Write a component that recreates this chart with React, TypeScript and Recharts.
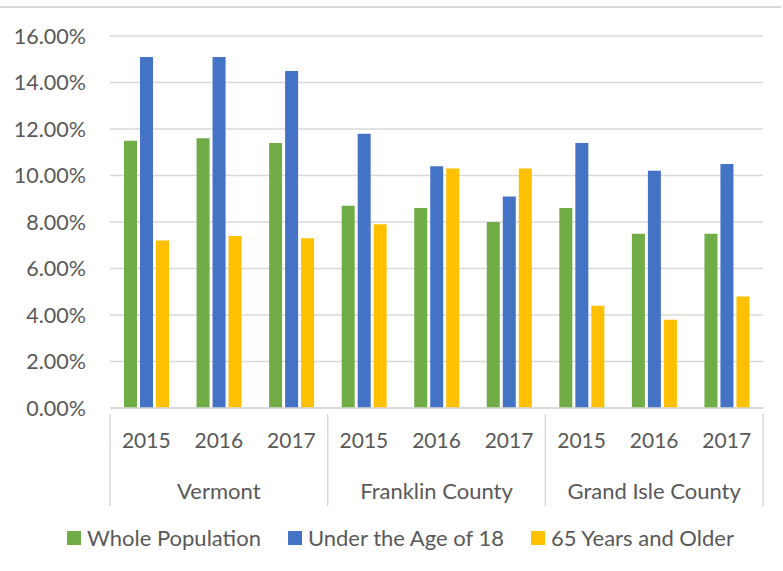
import { Bar, BarChart, CartesianGrid, Legend, XAxis, YAxis } from "recharts";

const years = ["2015", "2016", "2017", "2015", "2016", "2017", "2015", "2016", "2017"];
const regions = ["Vermont", "Vermont", "Vermont", "Franklin County", "Franklin County", "Franklin County", "Grand Isle County", "Grand Isle County", "Grand Isle County"];
const wholePopulation = [11.5, 11.6, 11.4, 8.7, 8.6, 8.0, 8.6, 7.5, 7.5];
const underAge18 = [15.1, 15.1, 14.5, 11.8, 10.4, 9.1, 11.4, 10.2, 10.5];
const age65Plus = [7.2, 7.4, 7.3, 7.9, 10.3, 10.3, 4.4, 3.8, 4.8];
const seriesNames = ["Whole Population", "Under the Age of 18", "65 Years and Older"];
const yTicks = [0, 2, 4, 6, 8, 10, 12, 14, 16];

const data = years.map((year, i) => ({
  key: i,
  year,
  region: regions[i],
  whole: wholePopulation[i],
  under18: underAge18[i],
  older: age65Plus[i],
}));

const FONT = "Lato, 'Noto Sans', sans-serif";
const INK = "#595959";
const GRID = "#d9d9d9";
const YEAR_H = 45;
const REGION_H = 47;

function RegionTick(props: any) {
  const { x, y, index, width, visibleTicksCount, payload } = props;
  const band = width / visibleTicksCount;
  const top = y - YEAR_H;
  const bottom = y + REGION_H;
  const left = x - band / 2;
  return (
    <g>
      {index % 3 === 0 && <line x1={left} x2={left} y1={top} y2={bottom} stroke={GRID} strokeWidth={1.5} />}
      {index === visibleTicksCount - 1 && (
        <line x1={x + band / 2} x2={x + band / 2} y1={top} y2={bottom} stroke={GRID} strokeWidth={1.5} />
      )}
      {index % 3 === 1 && (
        <text x={x} y={y + 40} textAnchor="middle" fill={INK} fontSize={22} fontFamily={FONT}>
          {regions[payload.value]}
        </text>
      )}
    </g>
  );
}

function LegendContent({ payload }: any) {
  const items = [...(payload || [])].sort(
    (a: any, b: any) => seriesNames.indexOf(a.value) - seriesNames.indexOf(b.value)
  );
  return (
    <div
      style={{
        display: "flex",
        justifyContent: "center",
        gap: 27,
        paddingLeft: 28,
        fontFamily: FONT,
        fontSize: 22,
        color: INK,
      }}
    >
      {items.map((p: any) => (
        <span key={p.value} style={{ display: "flex", alignItems: "center" }}>
          <span style={{ width: 14, height: 14, background: p.color, marginRight: 6, display: "inline-block" }} />
          {p.value}
        </span>
      ))}
    </div>
  );
}

export default function App() {
  return (
    <div style={{ position: "absolute", left: 0, top: 0, width: 783, height: 571, background: "#fff" }}>
      <div style={{ position: "absolute", left: 0, top: 6, width: 781, height: 2, background: "#d9d9d9" }} />
      <BarChart
        width={783}
        height={571}
        data={data}
        margin={{ top: 36, right: 20, left: 10, bottom: 44 }}
        barSize={13}
        barGap={3}
      >
        <CartesianGrid vertical={false} stroke={GRID} strokeWidth={1.5} />
        <XAxis
          dataKey="key"
          tickFormatter={(v: number) => years[v]}
          interval={0}
          height={YEAR_H}
          tickLine={false}
          axisLine={{ stroke: GRID, strokeWidth: 1.5 }}
          tick={{ fill: INK, fontSize: 21, fontFamily: FONT }}
          tickMargin={19}
        />
        <XAxis
          xAxisId="region"
          dataKey="key"
          interval={0}
          height={REGION_H}
          axisLine={false}
          tickLine={false}
          tickMargin={0}
          tick={<RegionTick />}
        />
        <YAxis
          domain={[0, 16]}
          ticks={yTicks}
          width={100}
          axisLine={false}
          tickLine={false}
          tickMargin={18}
          tickFormatter={(v: number) => `${v.toFixed(2)}%`}
          tick={{ fill: INK, fontSize: 21.5, fontFamily: FONT }}
        />
        <Legend content={<LegendContent />} verticalAlign="bottom" wrapperStyle={{ bottom: 20 }} />
        <Bar dataKey="whole" name={seriesNames[0]} fill="#70ad47" isAnimationActive={false} />
        <Bar dataKey="under18" name={seriesNames[1]} fill="#4472c4" isAnimationActive={false} />
        <Bar dataKey="older" name={seriesNames[2]} fill="#ffc000" isAnimationActive={false} />
      </BarChart>
    </div>
  );
}
